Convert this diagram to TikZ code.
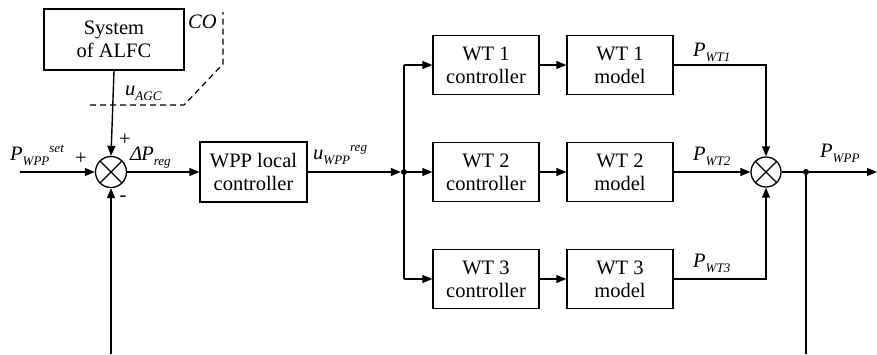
\documentclass[tikz,border=0pt]{standalone}
\usepackage{fontspec}
\setmainfont{Liberation Serif}
\usetikzlibrary{arrows.meta}

% signal names: italic symbol with a lowered subscript and an optional raised superscript
\newcommand{\subsz}{\fontsize{13}{13}\selectfont\itshape}
\newcommand{\sgn}[2]{\textit{#1}\raisebox{-5pt}{\subsz #2}}
\newcommand{\sgnsup}[3]{\sgn{#1}{#2}\raisebox{8pt}{\subsz #3}}

\begin{document}
\begin{tikzpicture}[x=1pt,y=-1pt,
  font=\fontsize{20.5}{22.7}\selectfont,
  blk/.style={draw,line width=1.3pt,minimum width=106pt,minimum height=59pt,
    align=center,inner sep=0pt},
  sumj/.style={draw,circle,line width=1.3pt,minimum size=31pt,inner sep=0pt,
    path picture={\draw[line width=1.2pt]
      (path picture bounding box.south west)--(path picture bounding box.north east)
      (path picture bounding box.north west)--(path picture bounding box.south east);}},
  sig/.style={line width=1.4pt,-{Triangle[length=10pt,width=8pt]}},
  wire/.style={line width=1.4pt},
  dot/.style={circle,fill,inner sep=0pt,minimum size=6pt},
  lbl/.style={anchor=base west,inner sep=0pt},
  sgnl/.style={anchor=center,inner sep=0pt}]
\useasboundingbox (0,0) rectangle (877,354);

% blocks
\node[blk,minimum width=140pt,minimum height=61pt] (alfc) at (114,39.5) {System\\of ALFC};
\node[sumj] (s1) at (111,172) {};
\node[blk,minimum width=107pt,minimum height=60pt] (wpp) at (253.5,172) {WPP local\\controller};
\node[dot] (br) at (404,172) {};
\node[blk] (c1) at (486,65) {WT 1\\controller};
\node[blk] (c2) at (486,172) {WT 2\\controller};
\node[blk] (c3) at (486,279) {WT 3\\controller};
\node[blk] (m1) at (620,65) {WT 1\\model};
\node[blk] (m2) at (620,172) {WT 2\\model};
\node[blk] (m3) at (620,279) {WT 3\\model};
\node[sumj,minimum size=30pt] (s2) at (766,172) {};
\node[dot] (out) at (806,172) {};

% free ends of wires
\coordinate (in) at (20,172);
\coordinate (fbl) at (111,354);
\coordinate (fbr) at (806,354);
\coordinate (end) at (877,172);
\coordinate (t1) at (404,65);
\coordinate (t3) at (404,279);

% main signal path
\draw[sig] (alfc.south) -- (s1.north);
\draw[sig] (in) -- (s1.west);
\draw[sig] (fbl) -- (s1.south);
\draw[sig] (s1.east) -- (wpp.west);
\draw[sig] (wpp.east) -- (br.west);
\draw[wire] (t1) -- (t3);
\draw[sig] (t1) -- (c1.west);
\draw[sig] (br) -- (c2.west);
\draw[sig] (t3) -- (c3.west);
\draw[sig] (c1) -- (m1);
\draw[sig] (c2) -- (m2);
\draw[sig] (c3) -- (m3);
\draw[sig] (m1.east) -| (s2.north);
\draw[sig] (m2.east) -- (s2.west);
\draw[sig] (m3.east) -| (s2.south);
\draw[wire] (s2.east) -- (out);
\draw[sig] (out) -- (end);
\draw[wire] (out) -- (fbr);

% communication channel boundary
\draw[line width=1.2pt,dash pattern=on 6pt off 4pt]
  (90,105) -- (184,105) -- (223,64) -- (223,12);

% labels
\node[lbl] at (188,28) {\textit{CO}};
\node[lbl] at (125,95) {\sgn{u}{AGC}};
\node[lbl] at (10,160) {\sgnsup{P}{WPP}{set}};
\node[lbl] at (130,160) {\sgn{Δ\kern-1pt P}{reg}};
\node[lbl] at (313,159) {\sgnsup{u}{WPP}{reg}};
\node[lbl] at (693,56) {\sgn{P}{WT1}};
\node[lbl] at (693,160) {\sgn{P}{WT2}};
\node[lbl] at (693,267) {\sgn{P}{WT3}};
\node[lbl] at (820,157) {\sgn{P}{WPP}};
\node[sgnl] at (81,159) {+};
\node[sgnl] at (125,140) {+};
\node[sgnl] at (123,199) {-};
\end{tikzpicture}
\end{document}
